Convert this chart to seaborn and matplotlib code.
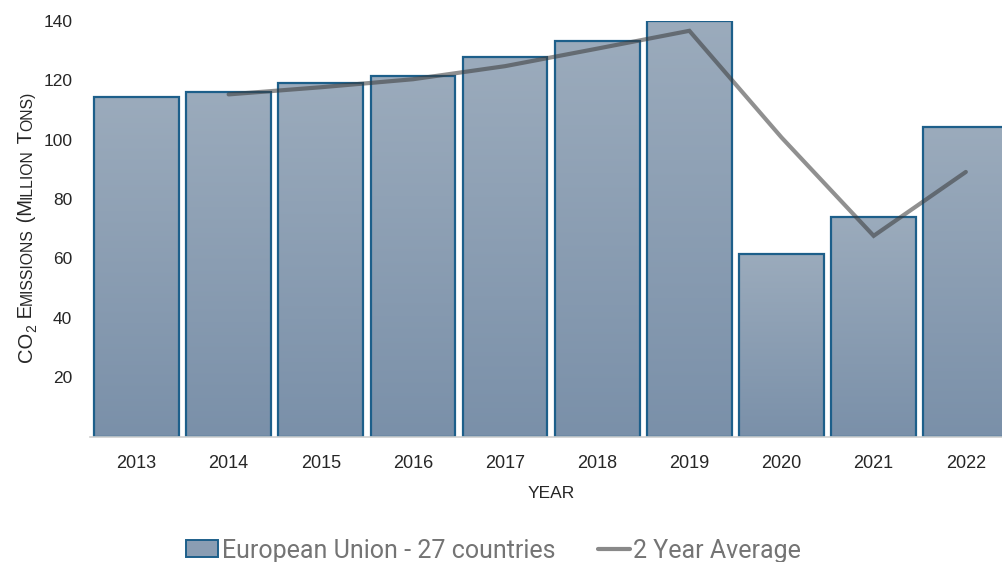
import numpy as np
import pandas as pd
import matplotlib
matplotlib.use("Agg")
import matplotlib.pyplot as plt
import seaborn as sns
from matplotlib.patches import Patch
from matplotlib.lines import Line2D
from matplotlib.colors import LinearSegmentedColormap

# Data
years = ["2013", "2014", "2015", "2016", "2017", "2018", "2019", "2020", "2021", "2022"]
emissions = [114.2, 116.1, 119.1, 121.5, 127.9, 133.2, 140.0, 61.4, 73.8, 104.3]
avg_years = ["2014", "2015", "2016", "2017", "2018", "2019", "2020", "2021", "2022"]
avg_values = [115.2, 117.6, 120.3, 124.7, 130.6, 136.6, 100.7, 67.6, 89.1]
y_ticks = [20, 40, 60, 80, 100, 120, 140]

sns.set_theme(style="white")
plt.rcParams["font.family"] = ["Liberation Sans", "DejaVu Sans"]

W, H = 1003, 562
fig = plt.figure(figsize=(W / 100, H / 100), dpi=100)
ax = fig.add_axes([90.4 / W, (H - 436.7) / H, (1011.9 - 90.4) / W, (436.7 - 20.7) / H])

df = pd.DataFrame({"year": years, "emissions": emissions})
sns.barplot(data=df, x="year", y="emissions", ax=ax, width=0.92,
            color="#8a9db3", edgecolor="#1d5f8a", linewidth=1.6,
            saturation=1, zorder=2)

# Vertical gradient inside every bar: light at the top, darker at the base
grad_cmap = LinearSegmentedColormap.from_list("bar", ["#7a90a9", "#9babbc"])
gradient = np.linspace(0, 1, 256).reshape(-1, 1)
for bar in ax.patches:
    x0, y0 = bar.get_x(), bar.get_y()
    w, h = bar.get_width(), bar.get_height()
    im = ax.imshow(gradient, cmap=grad_cmap, origin="lower", aspect="auto",
                   extent=[x0, x0 + w, y0, y0 + h], zorder=1.5,
                   interpolation="bicubic")
    im.set_clip_path(bar)
    bar.set_facecolor("none")

avg_df = pd.DataFrame({"year": avg_years, "avg": avg_values})
avg_df["pos"] = [years.index(y) for y in avg_years]
sns.lineplot(data=avg_df, x="pos", y="avg", ax=ax, color="#3a3a3a",
             alpha=0.56, linewidth=3.0, zorder=3, solid_capstyle="round",
             solid_joinstyle="miter")

ax.set_xlim(-0.5, len(years) - 0.5)
ax.set_ylim(0, 140)
ax.set_yticks(y_ticks)
ax.set_xticks(range(len(years)))
ax.set_xticklabels(years)
ax.tick_params(axis="both", colors="#262626", length=0)
ax.tick_params(axis="x", labelsize=13, pad=13)
ax.tick_params(axis="y", labelsize=12.5, pad=13)
for s in ["left", "right", "top"]:
    ax.spines[s].set_visible(False)
ax.spines["bottom"].set_color("#d0d0d0")
ax.spines["bottom"].set_linewidth(1.2)
ax.set_xlabel("YEAR", fontsize=12.5, color="#262626", labelpad=10)
ax.set_ylabel("")

# Y-axis title written in small capitals, built piece by piece
pieces = [("CO", 14.5, 0), ("2", 10, 4), (" E", 14.5, 0), ("MISSIONS", 11.3, 0),
          (" (M", 14.5, 0), ("ILLION", 11.3, 0), (" T", 14.5, 0), ("ONS)", 11.3, 0)]
renderer = fig.canvas.get_renderer()
widths = []
for txt, size, _ in pieces:
    t = fig.text(0, 0, txt.replace(" ", "\u00a0"), fontsize=size)
    bb = t.get_window_extent(renderer)
    widths.append(bb.width)
    t.remove()
total = sum(widths)
y_center = H - 227
x_base = 32
y = y_center - total / 2
for (txt, size, drop), w in zip(pieces, widths):
    fig.text((x_base + drop) / W, y / H, txt.replace(" ", "\u00a0"),
             fontsize=size, rotation=90, rotation_mode="anchor",
             ha="left", va="baseline", color="#262626")
    y += w

handles = [Patch(facecolor="#8a9db3", edgecolor="#1d5f8a", linewidth=1.4),
           Line2D([0], [0], color="#3a3a3a", alpha=0.6, linewidth=3.0)]
labels = ["European Union - 27 countries", "2 Year Average"]
fig.legend(handles, labels, loc="lower center", bbox_to_anchor=(0.492, -0.041),
           ncol=2, frameon=False, prop={"family": "Roboto", "size": 18},
           labelcolor="#747474", handlelength=1.28, handleheight=0.68,
           handletextpad=0.15, columnspacing=1.7)

fig.savefig("out.png", dpi=100)
